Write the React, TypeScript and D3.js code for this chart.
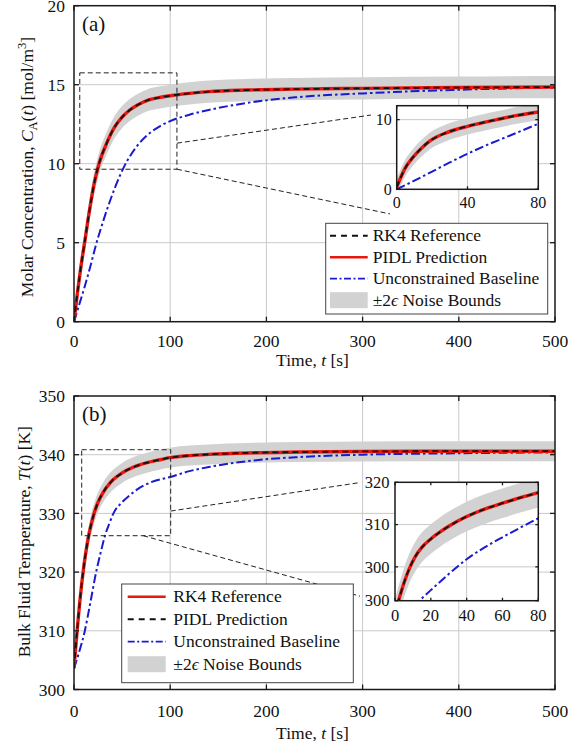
import React from "react";
import * as d3 from "d3";

// ---------- Panel (a): concentration ----------
const tA_red = [0, 3.5, 7, 11, 16.5, 21, 26, 34, 42, 50, 58, 67, 77, 88, 100, 120, 140, 180, 230, 300, 400, 500];
const cA_red = [0, 1.8, 3.4, 5, 7.2, 8.75, 10, 11.3, 12.3, 12.95, 13.4, 13.75, 14.03, 14.18, 14.3, 14.45, 14.56, 14.66, 14.72, 14.77, 14.82, 14.85];
const tA_blue = [0, 5, 11, 17, 23, 30, 36, 44, 52, 60, 68, 80, 90, 100, 120, 140, 180, 230, 300, 400, 500];
const cA_blue = [0, 1.0, 2.2, 3.5, 4.9, 6.3, 7.4, 8.7, 9.8, 10.65, 11.3, 12.0, 12.4, 12.7, 13.1, 13.4, 13.85, 14.2, 14.45, 14.68, 14.83];
const bandA = 0.7;

const tAin_red = [0, 4.7, 9.4, 14, 18.8, 28.2, 40, 56.5, 68, 80];
const cAin_red = [0.3, 3.0, 4.66, 5.9, 6.95, 8.14, 9.04, 10.0, 10.6, 11.1];
const tAin_blue = [0, 10, 20, 30, 40, 50, 60, 70, 80];
const cAin_blue = [0, 1.25, 2.55, 3.85, 5.1, 6.25, 7.3, 8.35, 9.4];
const bandAin = 1.2;

// ---------- Panel (b): temperature ----------
const tB_red = [0, 2, 4, 6, 8, 10, 13, 16, 20, 25, 30, 38, 50, 62, 75, 88, 100, 120, 140, 180, 234, 300, 400, 500];
const TB_red = [303.6, 307.6, 311.4, 314.9, 318.0, 320.7, 324.1, 326.8, 329.5, 331.9, 333.5, 335.3, 336.9, 337.9, 338.6, 339.1, 339.5, 339.85, 340.05, 340.3, 340.45, 340.55, 340.6, 340.6];
const tB_blue = [0, 5, 11, 17, 23, 28, 32, 37, 41, 50, 58, 65, 80, 100, 120, 140, 180, 234, 300, 400, 500];
const TB_blue = [303.6, 306.2, 309.8, 314.8, 320, 323.5, 326.1, 328.4, 330, 331.9, 333.1, 334, 335.3, 336.2, 337.2, 337.9, 338.9, 339.6, 340.0, 340.25, 340.4];
const bandB = 1.7;

const tBin_red = [0, 2, 5, 8, 11, 15, 20, 25, 30, 40, 50, 60, 70, 80];
const TBin_red = [289, 292, 296.2, 299.6, 302.2, 304.6, 306.6, 308.2, 309.6, 311.9, 313.65, 315.05, 316.35, 317.55];
const tBin_blue = [10, 13.6, 20, 30, 40, 50, 60, 70, 80];
const TBin_blue = [290.6, 292, 294.5, 298.3, 301.8, 304.6, 307.0, 309.3, 311.5];
const bandBin = 3.5;

// ---------- ticks & labels ----------
const xTicksMain = [0, 100, 200, 300, 400, 500];
const yTicksA = [0, 5, 10, 15, 20];
const yTicksB = [300, 310, 320, 330, 340, 350];
const inXTicksA = [0, 40, 80];
const inYTicksA = [0, 10];
const inXTicksB = [0, 20, 40, 60, 80];
const inYTicksB = [292, 300, 310, 320];
const inYLabelsB = ["300", "300", "310", "320"];
const inXGridA = [40];
const inYGridA = [10];
const inXGridB = [40];
const inYGridB = [300, 310];

const legendLabels = ["RK4 Reference", "PIDL Prediction", "Unconstrained Baseline", "±2ϵ Noise Bounds"];

// zoom-box annotations [t0, t1, v0, v1] and link lines [[t,v],[t,v]]
const boxA = [6, 107, 9.65, 15.75];
const linksA = [[[107, 11.3], [308.7, 13.08]], [[107, 9.65], [328.5, 6.82]]];
const boxB = [8, 100.5, 326.2, 340.85];
const linksB = [[[100.5, 330.4], [295, 335.2]], [[72, 326.2], [297.3, 315.9]]];

const FONT = "Liberation Serif";
const RED = "#e8170f";
const BLUE = "#1a1ad0";
const BAND = "#d2d2d2";
const FRAME = "#1a1a1a";
const GRID = "#c9c9c9";

type S = { t: number[]; v: number[] };

function zip(s: S) {
  return s.t.map((t, i) => [t, s.v[i]] as [number, number]);
}

function Curves({ xs, ys, red, blue, hw, clip }: any) {
  const line = d3
    .line<[number, number]>()
    .x((d) => xs(d[0]))
    .y((d) => ys(d[1]))
    .curve(d3.curveMonotoneX);
  const area = d3
    .area<[number, number]>()
    .x((d) => xs(d[0]))
    .y0((d) => ys(d[1] - hw))
    .y1((d) => ys(d[1] + hw))
    .curve(d3.curveMonotoneX);
  const r = zip(red);
  const b = zip(blue);
  return (
    <g clipPath={`url(#${clip})`}>
      <path d={area(r) || ""} fill={BAND} />
      <path d={line(b) || ""} fill="none" stroke={BLUE} strokeWidth={2} strokeDasharray="9,3,2.5,3" />
      <path d={line(r) || ""} fill="none" stroke={RED} strokeWidth={3.4} />
      <path d={line(r) || ""} fill="none" stroke="#111" strokeWidth={1.8} strokeDasharray="6,4" />
    </g>
  );
}

function Frame({ xs, ys, xGrid, yGrid, bg }: any) {
  const [x0, x1] = xs.range();
  const [y0, y1] = ys.range();
  return (
    <g>
      {bg && <rect x={x0} y={y1} width={x1 - x0} height={y0 - y1} fill="#fff" />}
      {xGrid.map((t: number) => (
        <line key={"gx" + t} x1={xs(t)} x2={xs(t)} y1={y0} y2={y1} stroke={GRID} strokeWidth={1} />
      ))}
      {yGrid.map((t: number) => (
        <line key={"gy" + t} x1={x0} x2={x1} y1={ys(t)} y2={ys(t)} stroke={GRID} strokeWidth={1} />
      ))}
    </g>
  );
}

function FrameTop({ xs, ys, xTicks, yTicks, yLabels, tickLen, fs, xLabOff, yLabOff }: any) {
  const [x0, x1] = xs.range();
  const [y0, y1] = ys.range();
  const st = { fontFamily: FONT, fontSize: fs };
  return (
    <g fill="#111">
      <rect x={x0} y={y1} width={x1 - x0} height={y0 - y1} fill="none" stroke={FRAME} strokeWidth={1.5} />
      {xTicks.map((t: number) => (
        <g key={"xt" + t}>
          <line x1={xs(t)} x2={xs(t)} y1={y0} y2={y0 - tickLen} stroke={FRAME} strokeWidth={1.3} />
          <line x1={xs(t)} x2={xs(t)} y1={y1} y2={y1 + tickLen} stroke={FRAME} strokeWidth={1.3} />
          <text x={xs(t)} y={y0 + xLabOff} textAnchor="middle" style={st}>{String(t)}</text>
        </g>
      ))}
      {yTicks.map((t: number, i: number) => (
        <g key={"yt" + t}>
          <line x1={x0} x2={x0 + tickLen} y1={ys(t)} y2={ys(t)} stroke={FRAME} strokeWidth={1.3} />
          <line x1={x1} x2={x1 - tickLen} y1={ys(t)} y2={ys(t)} stroke={FRAME} strokeWidth={1.3} />
          <text x={x0 - yLabOff} y={ys(t)} dy="0.35em" textAnchor="end" style={st}>{yLabels ? yLabels[i] : String(t)}</text>
        </g>
      ))}
    </g>
  );
}

function ZoomBox({ xs, ys, box, links }: any) {
  const [t0, t1, v0, v1] = box;
  return (
    <g fill="none" stroke="#222" strokeWidth={1} strokeDasharray="5,3">
      <rect x={xs(t0)} y={ys(v1)} width={xs(t1) - xs(t0)} height={ys(v0) - ys(v1)} />
      {links.map((l: any, i: number) => (
        <line key={i} x1={xs(l[0][0])} y1={ys(l[0][1])} x2={xs(l[1][0])} y2={ys(l[1][1])} />
      ))}
    </g>
  );
}

function Legend({ x, y, w, h, rows, sx0, sx1, tx, order }: any) {
  const st = { fontFamily: FONT, fontSize: 17.5 };
  return (
    <g fill="#111">
      <rect x={x} y={y} width={w} height={h} fill="#fff" stroke="#444" strokeWidth={1} />
      {legendLabels.map((lab, i) => {
        const ry = rows[i];
        const kind = order[i];
        let sample;
        if (kind === "black")
          sample = <line x1={sx0} x2={sx1} y1={ry} y2={ry} stroke="#111" strokeWidth={2} strokeDasharray="6,5" />;
        else if (kind === "red") sample = <line x1={sx0} x2={sx1} y1={ry} y2={ry} stroke={RED} strokeWidth={2.5} />;
        else if (kind === "blue")
          sample = <line x1={sx0} x2={sx1} y1={ry} y2={ry} stroke={BLUE} strokeWidth={1.8} strokeDasharray="7,2.5,2,2.5" />;
        else sample = <rect x={sx0} y={ry - 8} width={sx1 - sx0} height={16} fill={BAND} />;
        return (
          <g key={i}>
            {sample}
            <text x={tx} y={ry} dy="0.33em" style={st}>
              {kind === "band" ? (
                <>
                  ±2<tspan fontStyle="italic">ϵ</tspan> Noise Bounds
                </>
              ) : (
                lab
              )}
            </text>
          </g>
        );
      })}
    </g>
  );
}

export default function App() {
  // Panel (a)
  const xA = d3.scaleLinear().domain([0, 500]).range([74, 555]);
  const yA = d3.scaleLinear().domain([0, 20]).range([321.7, 5.7]);
  const xAin = d3.scaleLinear().domain([0, 80]).range([396.7, 538.3]);
  const yAin = d3.scaleLinear().domain([0, 12]).range([189.3, 105.7]);
  // Panel (b)
  const xB = d3.scaleLinear().domain([0, 500]).range([74, 555]);
  const yB = d3.scaleLinear().domain([300, 350]).range([689.5, 396]);
  const xBin = d3.scaleLinear().domain([0, 80]).range([395, 538.3]);
  const yBin = d3.scaleLinear().domain([292, 320]).range([600.7, 482.3]);

  const clipRect = (id: string, xs: any, ys: any) => {
    const [x0, x1] = xs.range();
    const [y0, y1] = ys.range();
    return (
      <clipPath id={id}>
        <rect x={x0} y={y1} width={x1 - x0} height={y0 - y1} />
      </clipPath>
    );
  };

  const txt = { fontFamily: FONT, fontSize: 17.5 };
  const pl = { fontFamily: FONT, fontSize: 21 };

  return (
    <svg width={582} height={751} style={{ position: "absolute", left: 0, top: 0, background: "#fff" }}>
      <defs>
        {clipRect("cA", xA, yA)}
        {clipRect("cAin", xAin, yAin)}
        {clipRect("cB", xB, yB)}
        {clipRect("cBin", xBin, yBin)}
      </defs>
      <rect x={0} y={0} width={582} height={751} fill="#fff" />

      {/* ---------- Panel (a) ---------- */}
      <Frame xs={xA} ys={yA} xGrid={xTicksMain.slice(1, -1)} yGrid={yTicksA.slice(1, -1)} />
      <Curves xs={xA} ys={yA} red={{ t: tA_red, v: cA_red }} blue={{ t: tA_blue, v: cA_blue }} hw={bandA} clip="cA" />
      <ZoomBox xs={xA} ys={yA} box={boxA} links={linksA} />
      <Legend x={325.7} y={223.3} w={222} h={90.7} rows={[235.7, 257.2, 278.7, 300.2]} sx0={330} sx1={367.7} tx={372.7}
        order={["black", "red", "blue", "band"]} />
      <FrameTop xs={xA} ys={yA} xTicks={xTicksMain} yTicks={yTicksA} tickLen={5} fs={17.5} xLabOff={25} yLabOff={9} />
      <text x={82} y={31} style={pl} fill="#111">(a)</text>
      {/* inset a */}
      <Frame xs={xAin} ys={yAin} xGrid={inXGridA} yGrid={inYGridA} bg />
      <Curves xs={xAin} ys={yAin} red={{ t: tAin_red, v: cAin_red }} blue={{ t: tAin_blue, v: cAin_blue }} hw={bandAin} clip="cAin" />
      <FrameTop xs={xAin} ys={yAin} xTicks={inXTicksA} yTicks={inYTicksA} tickLen={3} fs={16} xLabOff={19} yLabOff={5} />

      <text transform="translate(33,167) rotate(-90)" textAnchor="middle" style={txt} fill="#111">
        Molar Concentration, <tspan fontStyle="italic">C</tspan>
        <tspan fontSize={12.5} dy={4}>A</tspan>
        <tspan dy={-4}>(</tspan>
        <tspan fontStyle="italic">t</tspan>) [mol/m<tspan fontSize={12.5} dy={-7}>3</tspan>
        <tspan dy={7}>]</tspan>
      </text>
      <text x={312.5} y={366} textAnchor="middle" style={txt} fill="#111">
        Time, <tspan fontStyle="italic">t</tspan> [s]
      </text>

      {/* ---------- Panel (b) ---------- */}
      <Frame xs={xB} ys={yB} xGrid={xTicksMain.slice(1, -1)} yGrid={yTicksB.slice(1, -1)} />
      <Curves xs={xB} ys={yB} red={{ t: tB_red, v: TB_red }} blue={{ t: tB_blue, v: TB_blue }} hw={bandB} clip="cB" />
      <ZoomBox xs={xB} ys={yB} box={boxB} links={linksB} />
      <Legend x={121.7} y={584} w={231.6} h={98.7} rows={[596.7, 619.2, 641.7, 664.2]} sx0={127.7} sx1={165.7} tx={173.3}
        order={["red", "black", "blue", "band"]} />
      <FrameTop xs={xB} ys={yB} xTicks={xTicksMain} yTicks={yTicksB} tickLen={5} fs={17.5} xLabOff={27} yLabOff={9} />
      <text x={82} y={421} style={pl} fill="#111">(b)</text>
      {/* inset b */}
      <Frame xs={xBin} ys={yBin} xGrid={inXGridB} yGrid={inYGridB} bg />
      <Curves xs={xBin} ys={yBin} red={{ t: tBin_red, v: TBin_red }} blue={{ t: tBin_blue, v: TBin_blue }} hw={bandBin} clip="cBin" />
      <FrameTop xs={xBin} ys={yBin} xTicks={inXTicksB} yTicks={inYTicksB} yLabels={inYLabelsB} tickLen={3} fs={16.5} xLabOff={20} yLabOff={5.5} />

      <text transform="translate(30,541.7) rotate(-90)" textAnchor="middle" style={txt} fill="#111">
        Bulk Fluid Temperature, <tspan fontStyle="italic">T</tspan>(<tspan fontStyle="italic">t</tspan>) [K]
      </text>
      <text x={312.5} y={739} textAnchor="middle" style={txt} fill="#111">
        Time, <tspan fontStyle="italic">t</tspan> [s]
      </text>
    </svg>
  );
}
